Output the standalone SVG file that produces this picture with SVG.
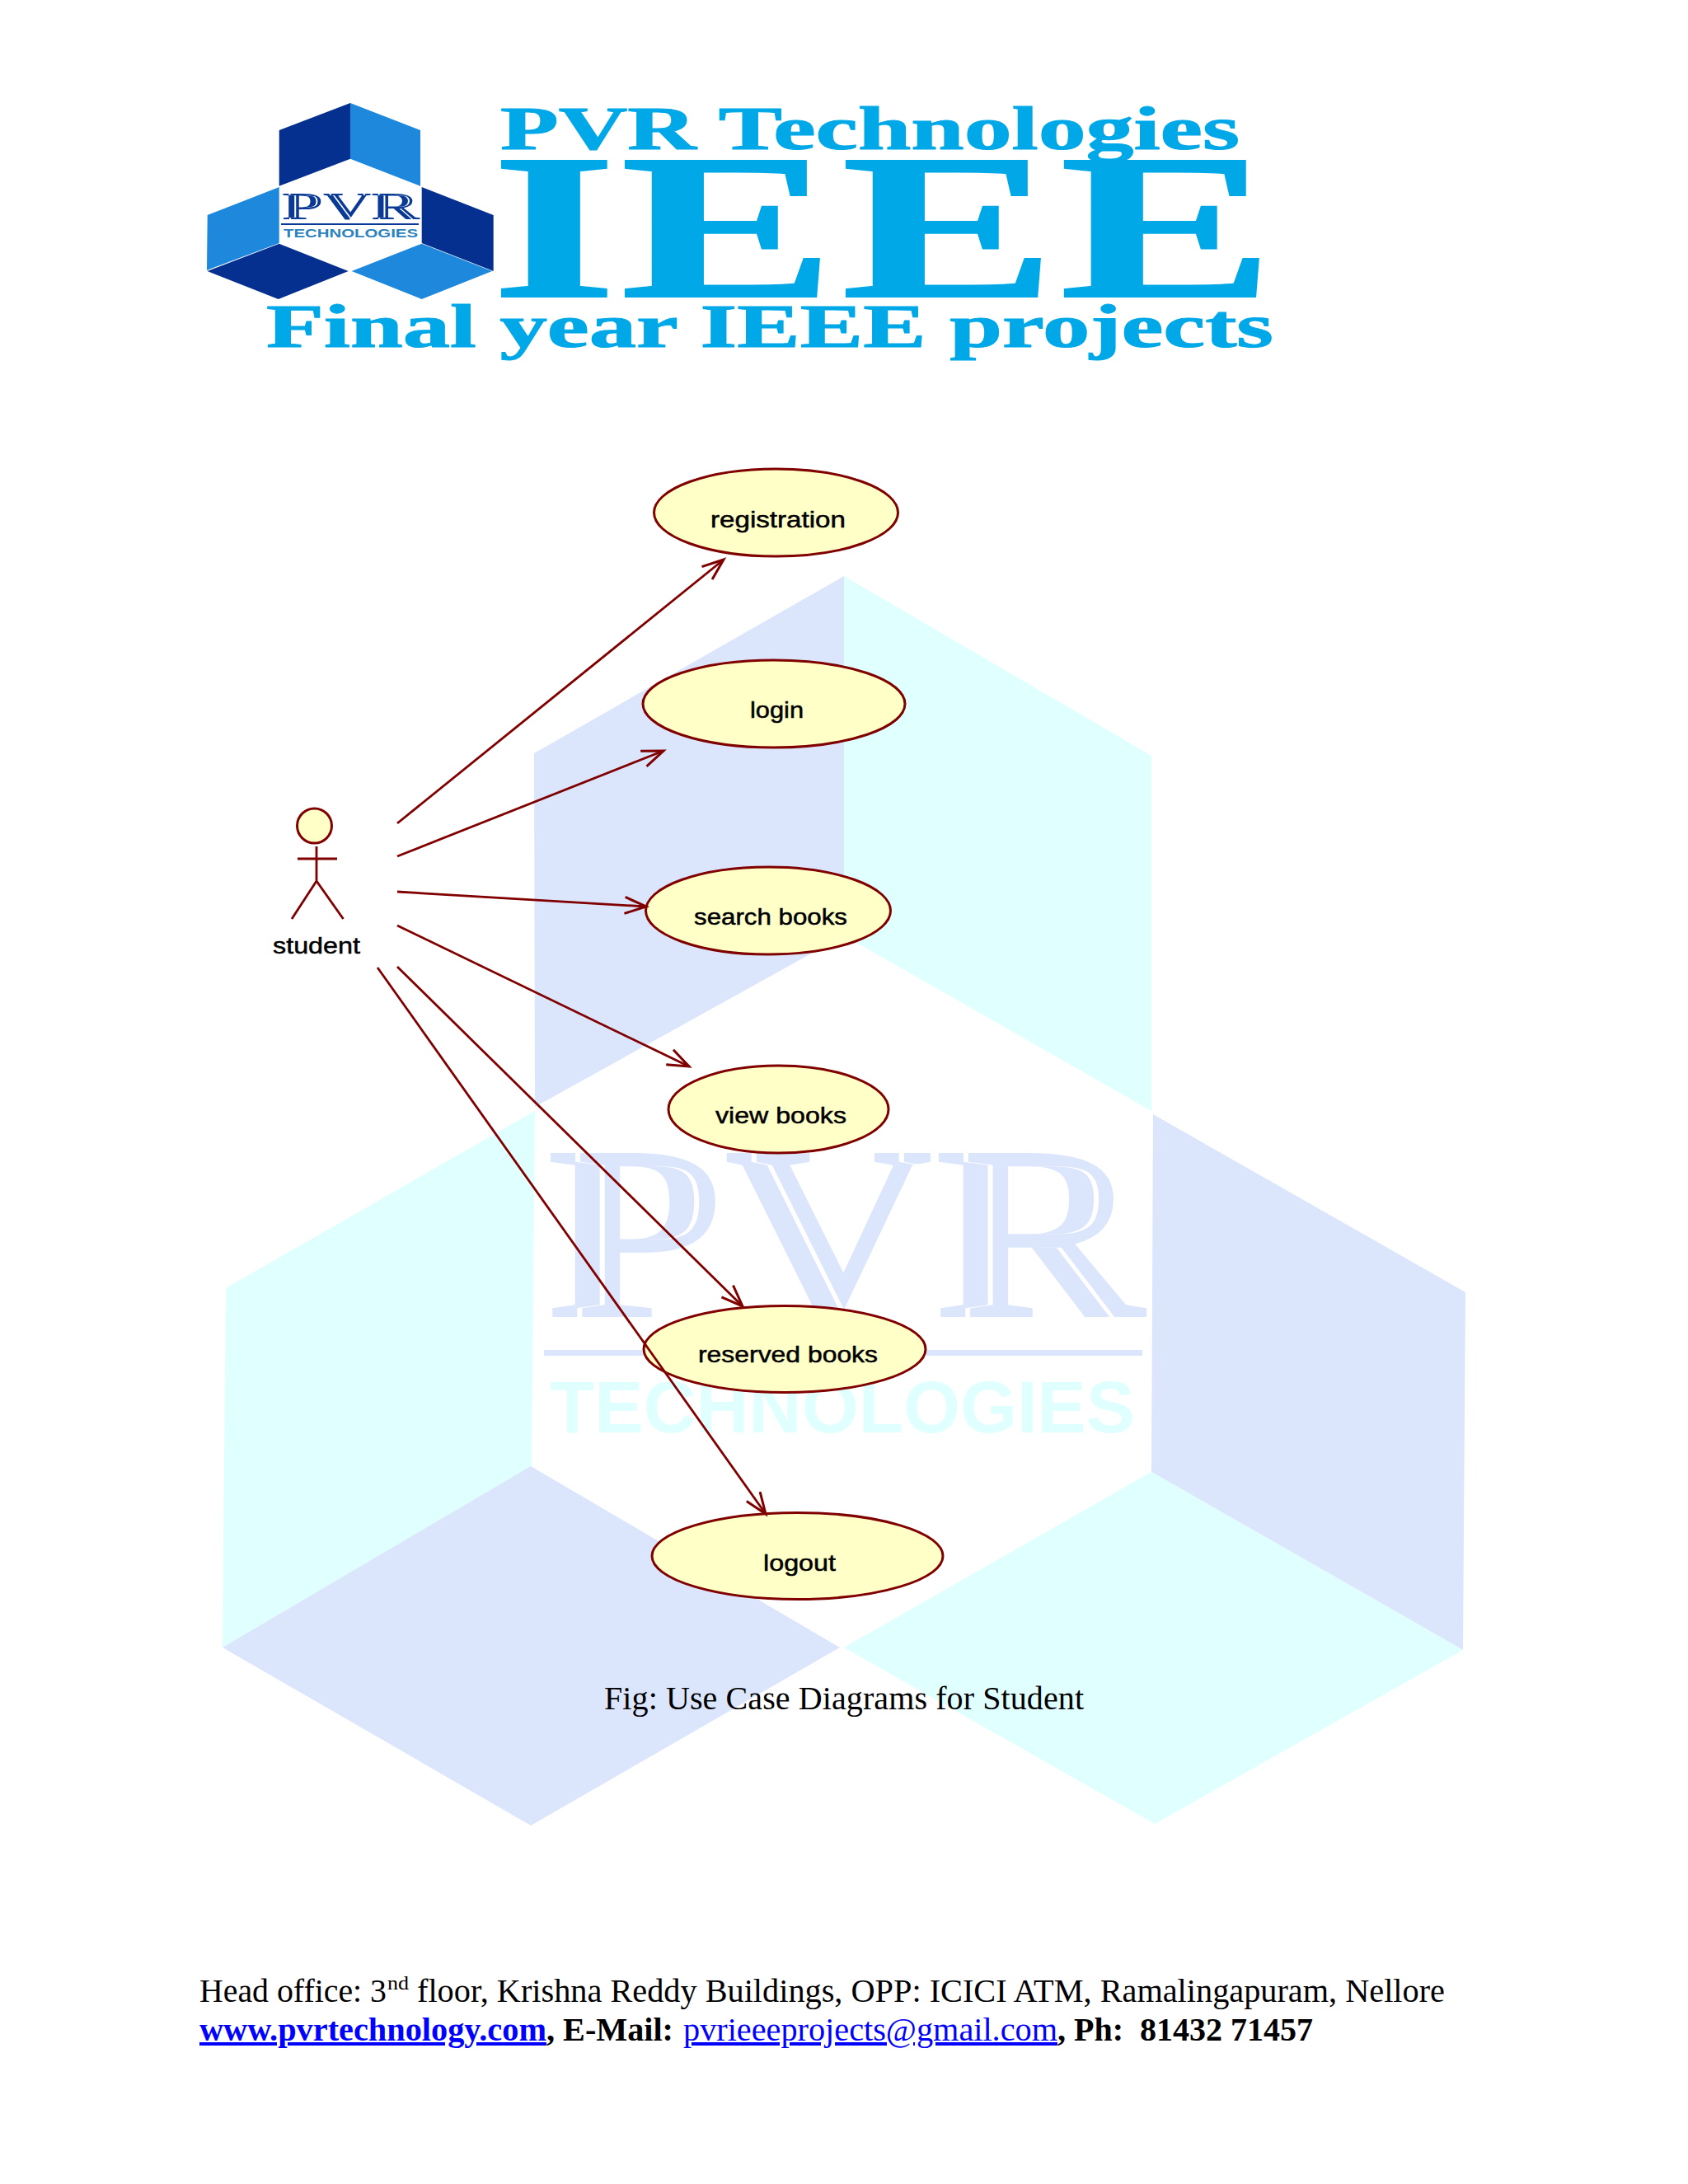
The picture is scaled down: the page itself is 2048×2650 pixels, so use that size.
<svg xmlns="http://www.w3.org/2000/svg" width="2048" height="2650" viewBox="0 0 2048 2650">
<style>
.serif{font-family:"Liberation Serif","Times New Roman",serif}
.sans{font-family:"Liberation Sans",Arial,sans-serif}
.uc{fill:#ffffc8;stroke:#800000;stroke-width:3}
.lbl{font-family:"Liberation Sans",Arial,sans-serif;font-size:28px;fill:#000;stroke:#000;stroke-width:.5}
.conn{fill:none;stroke:#800000;stroke-width:2.8;marker-end:url(#open)}
.act{fill:none;stroke:#800000;stroke-width:2.8}
.wb{fill:#dbe6fd}.wc{fill:#e0ffff}
.dk{fill:#06308f}.lt{fill:#1e88dc}
.brand{font-family:"Liberation Serif","Times New Roman",serif;font-weight:bold;fill:#00a8e8;stroke:#00a8e8;stroke-width:1}
.foot{font-family:"Liberation Serif","Times New Roman",serif;font-size:40px;fill:#000}
.link{fill:#0000ff}
</style>
<defs>
<marker id="open" markerUnits="userSpaceOnUse" markerWidth="40" markerHeight="40" refX="30" refY="15" orient="auto">
<path d="M4 5L30 15L4 25" fill="none" stroke="#800000" stroke-width="3"/>
</marker>
<filter id="inlineBig" x="-5%" y="-5%" width="110%" height="110%" color-interpolation-filters="sRGB">
<feOffset in="SourceGraphic" dx="30" result="a"/>
<feOffset in="SourceGraphic" dx="36" result="b"/>
<feComposite in="a" in2="b" operator="out" result="slit"/>
<feComposite in="SourceGraphic" in2="slit" operator="out"/>
</filter>
<filter id="inlineSmall" x="-5%" y="-5%" width="110%" height="110%" color-interpolation-filters="sRGB">
<feOffset in="SourceGraphic" dx="7" result="a"/>
<feOffset in="SourceGraphic" dx="8.500" result="b"/>
<feComposite in="a" in2="b" operator="out" result="slit"/>
<feComposite in="SourceGraphic" in2="slit" operator="out"/>
</filter>
</defs>
<rect width="2048" height="2650" fill="#fff"/>
<g id="watermark">
<polygon class="wb" points="1024,699 1024,1135 649,1343 648,914"/>
<polygon class="wc" points="1024,699 1397,917 1397,1348 1024,1135"/>
<polygon class="wc" points="649,1348 645,1779 270,1999 274,1563"/>
<polygon class="wb" points="1399,1352 1778,1568 1775,2002 1397,1786"/>
<polygon class="wb" points="644,1779 1019,1999 644,2215 270,1999"/>
<polygon class="wc" points="1397,1786 1775,2002 1401,2213 1024,1999"/>
<text class="serif" x="662" y="1598" font-size="304" font-weight="bold" fill="#dbe6fd" filter="url(#inlineBig)" textLength="726" lengthAdjust="spacingAndGlyphs">PVR</text>
<rect x="660" y="1638" width="726" height="7" fill="#dbe6fd"/>
<text class="sans" x="667" y="1738" font-size="89" font-weight="bold" fill="#e0ffff" textLength="710" lengthAdjust="spacingAndGlyphs">TECHNOLOGIES</text>
</g>
<g id="logo">
<polygon class="dk" points="425,125 425,192.700 338.700,225.700 338.700,158"/>
<polygon class="lt" points="425,125 510,158 510,225.700 425,192.700"/>
<polygon class="dk" points="511.700,227 598.700,261 598.700,329 511.700,295"/>
<polygon class="lt" points="338.700,227 251.700,261 251,328 338.700,295"/>
<polygon class="dk" points="338.700,295.700 422.700,329 337.700,363 251.700,329"/>
<polygon class="lt" points="511.700,295.700 597,329 511.700,363 426.700,329"/>
<text class="serif" x="342" y="266" font-size="47" font-weight="bold" fill="#0a3a96" filter="url(#inlineSmall)" textLength="167" lengthAdjust="spacingAndGlyphs">PVR</text>
<rect x="341" y="271" width="167" height="2" fill="#0a3a96"/>
<text class="sans" x="344" y="288" font-size="14" font-weight="bold" fill="#2a82c0" textLength="163" lengthAdjust="spacingAndGlyphs">TECHNOLOGIES</text>
<text class="brand" x="607" y="181" font-size="73" textLength="897" lengthAdjust="spacingAndGlyphs">PVR Technologies</text>
<text class="brand" transform="scale(1.550,1)" x="384.700 485.700 658.600 829.500" y="360" font-size="252" style="stroke-width:2">IEEE</text>
<text class="brand" x="323" y="421" font-size="73" textLength="1222" lengthAdjust="spacingAndGlyphs">Final year IEEE projects</text>
</g>
<g id="student">
<ellipse cx="381.500" cy="1002" rx="21" ry="21" class="uc"/>
<path class="act" d="M384 1027V1069M361 1042H409M354 1115L384 1069L416.500 1115"/>
<text class="lbl" x="331" y="1157" textLength="106" lengthAdjust="spacingAndGlyphs">student</text>
</g>
<g id="registration"><ellipse class="uc" cx="941.500" cy="622" rx="148" ry="53"/><text class="lbl" x="862" y="640" textLength="164" lengthAdjust="spacingAndGlyphs">registration</text></g>
<g id="login"><ellipse class="uc" cx="939" cy="854" rx="159" ry="53"/><text class="lbl" x="910" y="871" textLength="65" lengthAdjust="spacingAndGlyphs">login</text></g>
<g id="search-books"><ellipse class="uc" cx="932" cy="1105" rx="148.500" ry="53"/><text class="lbl" x="842" y="1122" textLength="186" lengthAdjust="spacingAndGlyphs">search books</text></g>
<g id="view-books"><ellipse class="uc" cx="944.500" cy="1346" rx="133.500" ry="53"/><text class="lbl" x="868" y="1363" textLength="159" lengthAdjust="spacingAndGlyphs">view books</text></g>
<g id="reserved-books"><ellipse class="uc" cx="952" cy="1637" rx="171" ry="52.500"/><text class="lbl" x="847" y="1653" textLength="218" lengthAdjust="spacingAndGlyphs">reserved books</text></g>
<g id="logout"><ellipse class="uc" cx="967.500" cy="1888" rx="176.500" ry="52.500"/><text class="lbl" x="926" y="1906" textLength="88" lengthAdjust="spacingAndGlyphs">logout</text></g>
<g id="connectors">
<line class="conn" x1="482" y1="999" x2="878" y2="679"/>
<line class="conn" x1="482" y1="1039" x2="805" y2="911"/>
<line class="conn" x1="482" y1="1082" x2="784" y2="1100"/>
<line class="conn" x1="482" y1="1123" x2="836" y2="1294"/>
<line class="conn" x1="482" y1="1173" x2="901" y2="1585"/>
<line class="conn" x1="458" y1="1174" x2="929" y2="1837"/>
</g>
<text class="foot" x="733" y="2074" textLength="582">Fig: Use Case Diagrams for Student</text>
<g id="footer">
<text class="foot" x="242" y="2429" textLength="227" lengthAdjust="spacingAndGlyphs">Head office: 3</text>
<text class="foot" x="470" y="2414" style="font-size:24px" textLength="26" lengthAdjust="spacingAndGlyphs">nd</text>
<text class="foot" x="506" y="2429" textLength="1247" lengthAdjust="spacingAndGlyphs">floor, Krishna Reddy Buildings, OPP: ICICI ATM, Ramalingapuram, Nellore</text>
<text class="foot link" x="242" y="2476" font-weight="bold" style="fill:#0000ff" text-decoration="underline" textLength="421" lengthAdjust="spacingAndGlyphs">www.pvrtechnology.com</text>
<text class="foot" x="663" y="2476" font-weight="bold" textLength="154" lengthAdjust="spacingAndGlyphs">, E-Mail:</text>
<text class="foot link" x="829" y="2476" style="fill:#0000ff" text-decoration="underline" textLength="454" lengthAdjust="spacingAndGlyphs">pvrieeeprojects@gmail.com</text>
<text class="foot" x="1283" y="2476" font-weight="bold" textLength="310" lengthAdjust="spacingAndGlyphs" xml:space="preserve">, Ph:  81432 71457</text>
</g>
</svg>
